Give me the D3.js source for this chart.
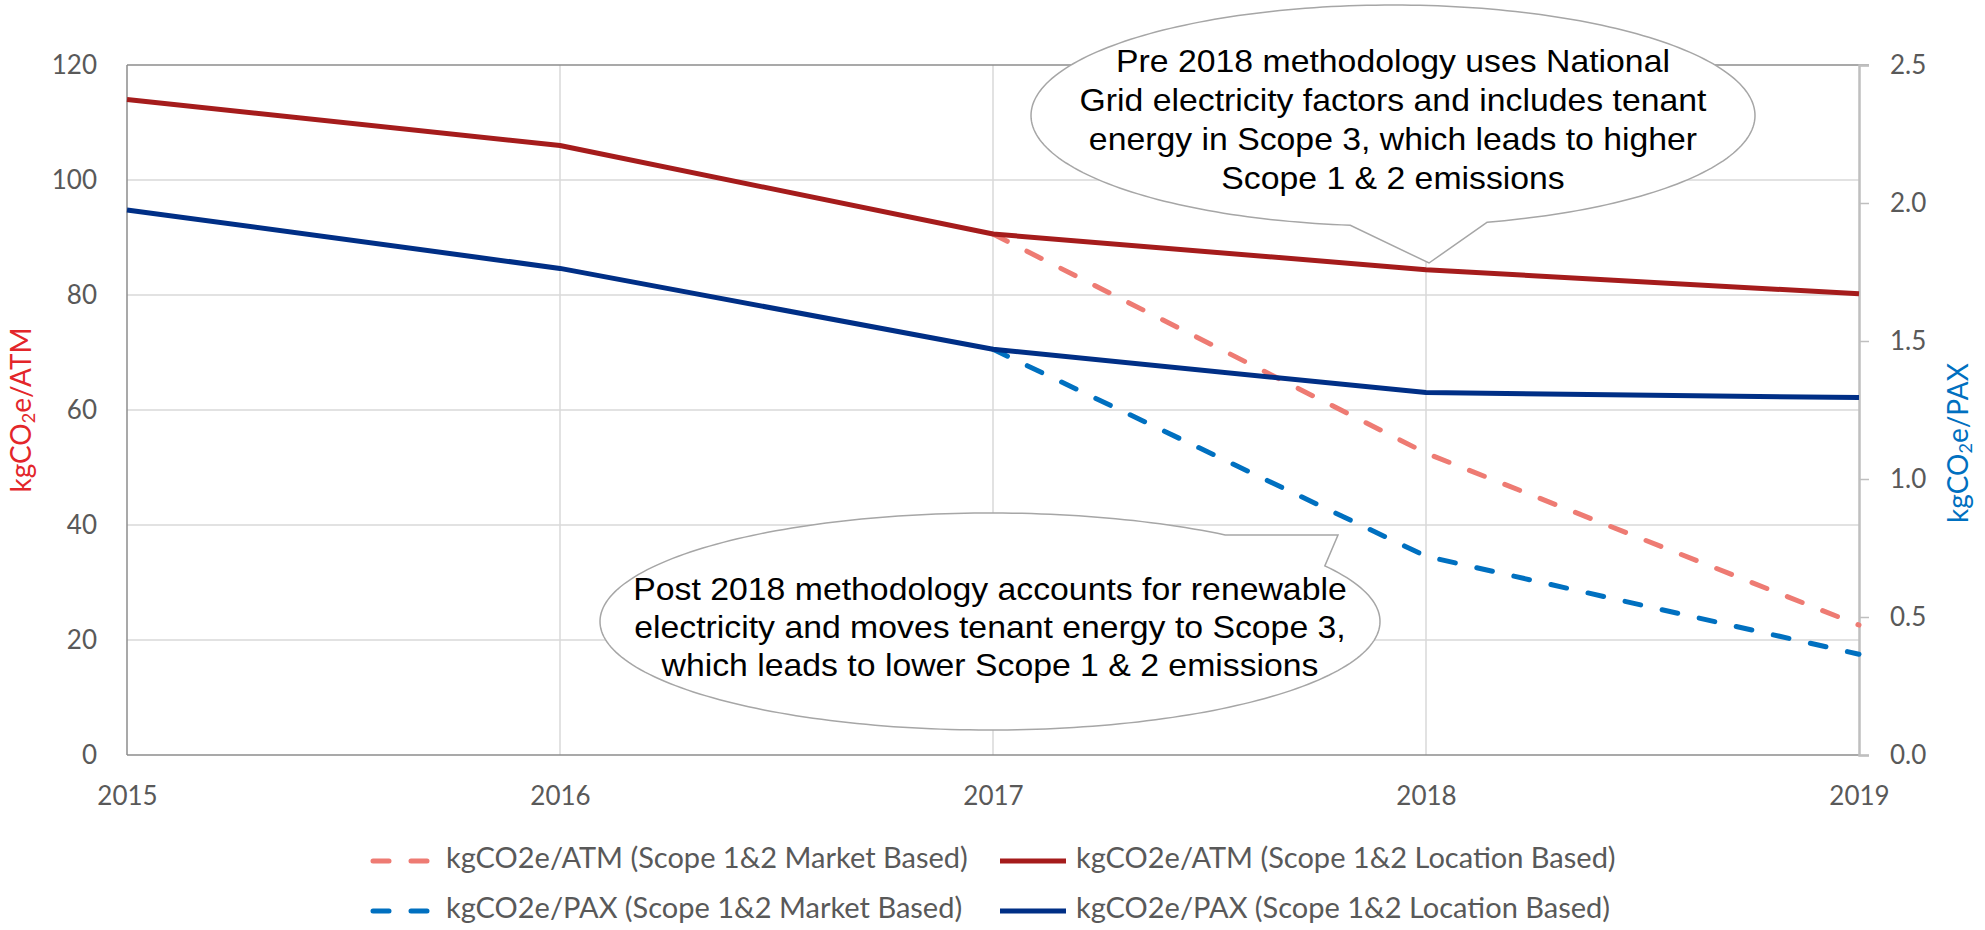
<!DOCTYPE html>
<html>
<head>
<meta charset="utf-8">
<script src="https://cdn.jsdelivr.net/npm/d3@7"></script>
<style>
  html, body { margin: 0; padding: 0; background: #fff; overflow: hidden; }
  svg { display: block; }
</style>
</head>
<body>
<svg id="chart" width="1985" height="930"></svg>
<script>
// ---- data ----
const years = [2015, 2016, 2017, 2018, 2019];
const atmLocation = [114, 106, 90.6, 84.4, 80.2];
const paxLocation = [1.975, 1.763, 1.47, 1.313, 1.295];
const atmMarket = [null, null, 90.6, 52.5, 22.6];
const paxMarket = [null, null, 1.47, 0.72, 0.365];
const leftTicks = [0, 20, 40, 60, 80, 100, 120];
const rightTicks = [0, 0.5, 1.0, 1.5, 2.0, 2.5];
const legendLabels = [
  "kgCO2e/ATM (Scope 1&2 Market Based)",
  "kgCO2e/ATM (Scope 1&2 Location Based)",
  "kgCO2e/PAX (Scope 1&2 Market Based)",
  "kgCO2e/PAX (Scope 1&2 Location Based)"
];
const calloutTop = ["Pre 2018 methodology uses National", "Grid electricity factors and includes tenant", "energy in Scope 3, which leads to higher", "Scope 1 & 2 emissions"];
const calloutBottom = ["Post 2018 methodology accounts for renewable", "electricity and moves tenant energy to Scope 3,", "which leads to lower Scope 1 & 2 emissions"];

// ---- layout ----
const L = 127, R = 1859, T = 65, B = 755;
const svg = d3.select("#chart");
const x = d3.scaleLinear().domain([2015, 2019]).range([L, R]);
const yL = d3.scaleLinear().domain([0, 120]).range([B, T]);
const yR = d3.scaleLinear().domain([0, 2.5]).range([B, T]);

const tickFont = "Lato, 'Open Sans', sans-serif";
const tickColor = "#595959";

// gridlines
svg.append("g").selectAll("line").data(leftTicks.filter(d => d > 0 && d < 120)).join("line")
  .attr("x1", L).attr("x2", R).attr("y1", d => yL(d)).attr("y2", d => yL(d))
  .attr("stroke", "#d9d9d9").attr("stroke-width", 1.5);
svg.append("g").selectAll("line").data(years.slice(1, 4)).join("line")
  .attr("x1", d => x(d)).attr("x2", d => x(d)).attr("y1", T).attr("y2", B)
  .attr("stroke", "#d9d9d9").attr("stroke-width", 1.5);

// frame lines
svg.append("line").attr("x1", L).attr("x2", R + 10).attr("y1", T).attr("y2", T).attr("stroke", "#8c8c8c").attr("stroke-width", 1.5);
svg.append("line").attr("x1", L).attr("x2", R).attr("y1", B).attr("y2", B).attr("stroke", "#8c8c8c").attr("stroke-width", 1.5);
svg.append("line").attr("x1", L).attr("x2", L).attr("y1", T).attr("y2", B).attr("stroke", "#8c8c8c").attr("stroke-width", 1.5);

// left axis
const gL = svg.append("g").attr("transform", `translate(${L},0)`)
  .call(d3.axisLeft(yL).tickValues(leftTicks).tickSize(0).tickPadding(30).tickFormat(d3.format("d")));
gL.select(".domain").remove();
gL.selectAll("text").attr("font-family", tickFont).attr("font-size", 26).attr("fill", tickColor);

// right axis
const gR = svg.append("g").attr("transform", `translate(${R},0)`)
  .call(d3.axisRight(yR).tickValues(rightTicks).tickSize(10).tickPadding(21).tickFormat(d3.format(".1f")));
gR.select(".domain").attr("stroke", "#bfbfbf").attr("stroke-width", 2.5);
gR.selectAll(".tick line").attr("stroke", "#bfbfbf").attr("stroke-width", 1.5);
gR.selectAll("text").attr("font-family", tickFont).attr("font-size", 26).attr("fill", tickColor);

// bottom axis
const gB = svg.append("g").attr("transform", `translate(0,${B})`)
  .call(d3.axisBottom(x).tickValues(years).tickSize(0).tickPadding(32).tickFormat(d3.format("d")));
gB.select(".domain").remove();
gB.selectAll("text").attr("font-family", tickFont).attr("font-size", 26).attr("fill", tickColor);

// axis titles
function axisTitle(cx, cy, suffix, color) {
  const t = svg.append("text")
    .attr("transform", `translate(${cx},${cy}) rotate(-90)`)
    .attr("text-anchor", "middle").attr("dominant-baseline", "middle")
    .attr("font-family", tickFont).attr("font-size", 28).attr("fill", color);
  t.append("tspan").text("kgCO");
  t.append("tspan").attr("font-size", 18).attr("dy", 6).text("2");
  t.append("tspan").attr("dy", -6).text(suffix);
}
axisTitle(24, 410, "e/ATM", "#e3262a");
axisTitle(1961, 443, "e/PAX", "#0070c0");

// lines
const lineL = d3.line().defined(d => d.v != null).x(d => x(d.yr)).y(d => yL(d.v));
const lineR = d3.line().defined(d => d.v != null).x(d => x(d.yr)).y(d => yR(d.v));
const toPts = arr => years.map((yr, i) => ({ yr, v: arr[i] }));

const series = [
  { data: atmMarket, gen: lineL, color: "#ee7b73", dash: true },
  { data: paxMarket, gen: lineR, color: "#0070c0", dash: true },
  { data: atmLocation, gen: lineL, color: "#a51c1c", dash: false },
  { data: paxLocation, gen: lineR, color: "#002f86", dash: false }
];
series.forEach(s => {
  svg.append("path").attr("d", s.gen(toPts(s.data)))
    .attr("fill", "none").attr("stroke", s.color).attr("stroke-width", 5)
    .attr("stroke-linecap", s.dash ? "round" : "butt").attr("stroke-linejoin", "round")
    .attr("stroke-dasharray", s.dash ? "16,22" : null);
});

// callouts
function callout(cx, cy, rx, ry, b1, tip, b2, lines, textY, lh) {
  const ang = p => Math.atan2((p[1] - cy) / ry, (p[0] - cx) / rx);
  let t1 = ang(b1), t2 = ang(b2);
  const pts = [[cx + rx * Math.cos(t1), cy + ry * Math.sin(t1)], tip, [cx + rx * Math.cos(t2), cy + ry * Math.sin(t2)]];
  let end = t1 + 2 * Math.PI;
  const n = 240;
  for (let i = 1; i <= n; i++) {
    const t = t2 + (end - t2) * i / n;
    pts.push([cx + rx * Math.cos(t), cy + ry * Math.sin(t)]);
  }
  svg.append("path").attr("d", d3.line()(pts) + "Z")
    .attr("fill", "#fff").attr("stroke", "#a6a6a6").attr("stroke-width", 1.5);
  const tx = svg.append("text").attr("text-anchor", "middle")
    .attr("transform", `translate(${cx},0) scale(1.09,1)`)
    .attr("font-family", "'Liberation Sans', Arial, sans-serif").attr("font-size", 31).attr("fill", "#000");
  lines.forEach((ln, i) => tx.append("tspan").attr("x", 0).attr("y", textY + i * lh).text(ln));
}
callout(1393, 115.5, 362, 110.5, [1488, 223], [1429, 263], [1350, 226], calloutTop, 72, 39);
callout(990, 621.5, 390, 108.5, [1225, 535], [1338, 535], [1324, 566], calloutBottom, 600, 38);

// legend
const legendItems = [
  { label: legendLabels[0], color: "#ee7b73", dash: true, x0: 370, y: 861 },
  { label: legendLabels[1], color: "#a51c1c", dash: false, x0: 1000, y: 861 },
  { label: legendLabels[2], color: "#0070c0", dash: true, x0: 370, y: 911 },
  { label: legendLabels[3], color: "#002f86", dash: false, x0: 1000, y: 911 }
];
const lg = svg.append("g").selectAll("g").data(legendItems).join("g");
lg.append("line")
  .attr("x1", d => d.x0 + (d.dash ? 3 : 0)).attr("x2", d => d.x0 + (d.dash ? 64 : 66))
  .attr("y1", d => d.y).attr("y2", d => d.y)
  .attr("stroke", d => d.color).attr("stroke-width", 5)
  .attr("stroke-linecap", d => d.dash ? "round" : "butt")
  .attr("stroke-dasharray", d => d.dash ? "16,22" : null);
lg.append("text").attr("x", d => d.x0 + 76).attr("y", d => d.y)
  .attr("dominant-baseline", "middle")
  .attr("font-family", tickFont).attr("font-size", 29).attr("fill", tickColor)
  .text(d => d.label);
</script>
</body>
</html>
